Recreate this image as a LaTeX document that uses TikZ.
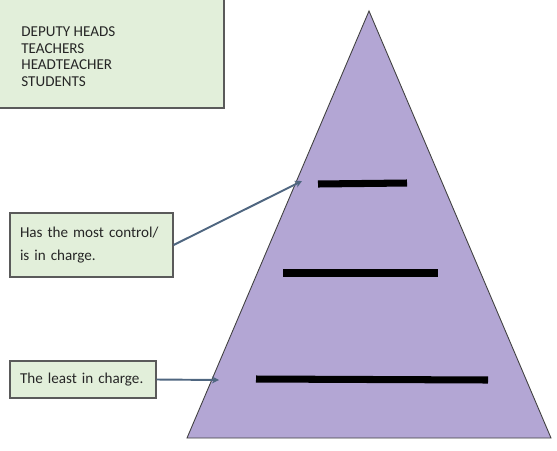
\documentclass[tikz,border=0pt]{standalone}
\usepackage{fontspec}
\setmainfont{Carlito}
\definecolor{pyramidlilac}{HTML}{B3A6D4}
\definecolor{notegreen}{HTML}{E2EFDA}
\definecolor{noteedge}{HTML}{5A5A5A}
\definecolor{arrowslate}{HTML}{4F6680}
\usetikzlibrary{arrows.meta, positioning}

\begin{document}
\begin{tikzpicture}[x=0.02cm, y=-0.02cm,
      notebox/.style={draw=noteedge, fill=notegreen, line width=0.7pt,
                    font=\fontsize{8.6}{13.6}\selectfont, align=left,
                    inner xsep=0.2cm, inner ysep=0pt, text=black!85},
      arr/.style={-{Stealth[length=4pt, width=4pt]}, line width=1.1pt, arrowslate},
      bar/.style={line width=4pt, black}
    ]
      \useasboundingbox (0,0) rectangle (557,450);
      \clip (0,0) rectangle (557,450);

      % pyramid
      \draw[fill=pyramidlilac, draw=black!75, line width=0.5pt]
        (369,11) -- (551,438) -- (187,438) -- cycle;
      \draw[bar] (318,184) -- (407,183);
      \draw[bar] (283,273) -- (438,273);
      \draw[bar] (256,379) -- (488,380);

      % list of roles
      \node[notebox, minimum width=5.28cm, minimum height=2.96cm] (rolesbox) at (92,34) {};
      \node[anchor=north west, align=left, inner sep=0pt, text=black!85,
            font=\fontsize{8.6}{9.6}\selectfont] (roles) at (21,26)
        {DEPUTY HEADS\\TEACHERS\\HEADTEACHER\\STUDENTS};

      % labels
      \node[notebox, minimum width=3.26cm, minimum height=1.28cm, text width=2.86cm] (most) at (91.5,245)
        {Has the most control/\\is in charge.};
      \node[notebox, minimum width=2.92cm, minimum height=0.74cm, text width=2.52cm] (least) at (83,379.5)
        {The least in charge.};

      \coordinate (mosttip) at (302,181);
      \coordinate (leasttip) at (219,380);
      \draw[arr] (most.east) -- (mosttip);
      \draw[arr] (least.east) -- (leasttip);
    \end{tikzpicture}
\end{document}
